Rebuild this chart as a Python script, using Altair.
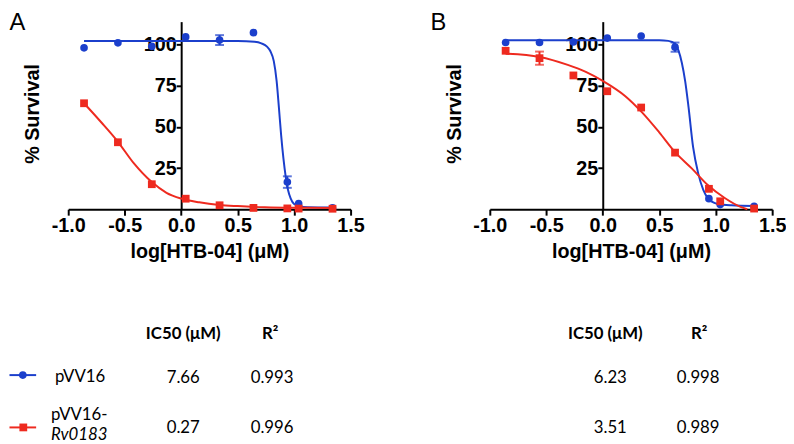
import altair as alt
import pandas as pd

# ---------------- data ----------------
log_conc = [-0.86, -0.56, -0.26, 0.04, 0.34, 0.64, 0.94, 1.04, 1.34]

a_blue_y = [98.1, 101.1, 99.0, 104.7, 102.8, 107.3, 16.5, 3.4, 0.8]
a_blue_err = [0, 0, 0, 0, 3.0, 0, 3.5, 0, 0]
a_red_y = [64.4, 40.7, 15.2, 6.4, 2.4, 0.8, 0.5, 0.4, 0.3]
a_red_err = [0, 0, 0, 0, 0, 0, 0, 0, 0]

b_blue_y = [101.3, 101.3, 101.6, 104.0, 105.3, 98.5, 6.4, 2.8, 1.8]
b_blue_err = [0, 0, 0, 0, 0, 2.8, 0, 0, 0]
b_red_y = [96.3, 91.8, 81.3, 71.7, 61.8, 34.4, 12.4, 4.8, 0.4]
b_red_err = [0, 4.0, 0, 0, 0, 0, 0, 0, 0]

# fitted curves
a_blue_fit_x = [-0.86, 0.50, 0.65, 0.71, 0.76, 0.79, 0.82, 0.845, 0.865, 0.885, 0.905, 0.925, 0.945, 0.97, 1.00, 1.05, 1.12, 1.34]
a_blue_fit_y = [102.3, 102.3, 101.8, 100.8, 98.8, 96.0, 90.0, 78.0, 62.0, 45.0, 31.0, 20.0, 12.0, 6.5, 3.2, 1.8, 1.2, 1.0]
a_red_fit_x = [-0.86, -0.71, -0.56, -0.42, -0.26, -0.13, 0.0, 0.16, 0.34, 0.50, 0.74, 1.00, 1.34]
a_red_fit_y = [64.4, 53.0, 41.0, 28.0, 16.5, 10.0, 6.5, 4.2, 2.6, 1.9, 1.2, 0.9, 0.8]

b_blue_fit_x = [-0.86, 0.50, 0.58, 0.64, 0.67, 0.70, 0.73, 0.76, 0.80, 0.845, 0.89, 0.93, 0.97, 1.02, 1.14, 1.34]
b_blue_fit_y = [102.7, 102.7, 102.3, 100.5, 96.5, 89.0, 77.7, 61.7, 37.7, 21.8, 11.8, 6.8, 4.5, 3.2, 2.4, 2.0]
b_red_fit_x = [-0.86, -0.56, -0.31, -0.15, 0.0, 0.20, 0.35, 0.50, 0.64, 0.79, 0.93, 1.08, 1.22, 1.28]
b_red_fit_y = [94.5, 92.5, 87.7, 83.5, 78.0, 68.7, 58.7, 46.7, 34.7, 24.7, 14.7, 6.8, 1.4, 0.0]

series_names = ["pVV16", "pVV16-", "Rv0183"]
a_ic50 = ["7.66", "0.27"]
a_r2 = ["0.993", "0.996"]
b_ic50 = ["6.23", "3.51"]
b_r2 = ["0.998", "0.989"]
x_ticks = [-1.0, -0.5, 0.0, 0.5, 1.0, 1.5]
y_ticks = [25, 50, 75, 100]

# ---------------- styling ----------------
BLUE = "#1b3fcc"
RED = "#ee2a1f"
AX_FONT = "Liberation Sans"
TB_FONT = "Lato"
W, H = 286, 190
Y_OFF = -W * 1.0 / 2.5  # y axis sits at x = 0

x_scale = alt.Scale(domain=[-1, 1.5], nice=False, zero=False)
y_scale = alt.Scale(domain=[0, 114], nice=False, zero=False)

x_axis = alt.Axis(
    values=x_ticks, labelExpr="replace(format(datum.value, '.1f'), '\u2212', '-')",
    title="log[HTB-04] (\u03bcM)", grid=False,
    labelFont=AX_FONT, labelFontSize=20, labelFontWeight="bold", labelColor="black",
    labelPadding=1, labelFlush=False, labelOverlap=False,
    titleFont=AX_FONT, titleFontSize=20, titleFontWeight="bold", titleColor="black", titlePadding=6,
    domainColor="black", domainWidth=2, tickColor="black", tickWidth=2, tickSize=6,
)
y_axis = alt.Axis(
    values=y_ticks, title="% Survival", grid=False, offset=Y_OFF,
    labelFont=AX_FONT, labelFontSize=20, labelFontWeight="bold", labelColor="black", labelPadding=0,
    titleFont=AX_FONT, titleFontSize=20, titleFontWeight="bold", titleColor="black",
    titleX=-150, titleY=93, titleAngle=270, titleAlign="center", titleBaseline="middle",
    domainColor="black", domainWidth=2, tickColor="black", tickWidth=2, tickSize=5,
)

dummy = pd.DataFrame({"d": [0]})


def label(txt, x, y, size=17, weight="normal", align="center", style="normal",
          font=TB_FONT, baseline="middle"):
    return alt.Chart(dummy).mark_text(
        text=txt, fontSize=size, fontWeight=weight, align=align, baseline=baseline,
        font=font, fontStyle=style, color="black"
    ).encode(x=alt.value(x), y=alt.value(y))


def series_layers(ys, errs, fx, fy, color, shape):
    pts = pd.DataFrame({"x": log_conc, "y": ys, "err": errs})
    pts["lo"] = pts["y"] - pts["err"]
    pts["hi"] = pts["y"] + pts["err"]
    fit = pd.DataFrame({"x": fx, "y": fy})
    X = alt.X("x:Q", scale=x_scale, axis=x_axis)
    Y = alt.Y("y:Q", scale=y_scale, axis=y_axis)
    line = alt.Chart(fit).mark_line(interpolate="monotone", strokeWidth=2, color=color).encode(x=X, y=Y)
    eb = alt.Chart(pts).transform_filter("datum.err > 0")
    bar = eb.mark_rule(strokeWidth=2, color=color).encode(
        x=alt.X("x:Q", scale=x_scale), y=alt.Y("lo:Q", scale=y_scale), y2="hi:Q")
    cap_lo = eb.mark_tick(orient="horizontal", size=9, thickness=2, color=color).encode(
        x=alt.X("x:Q", scale=x_scale), y=alt.Y("lo:Q", scale=y_scale))
    cap_hi = eb.mark_tick(orient="horizontal", size=9, thickness=2, color=color).encode(
        x=alt.X("x:Q", scale=x_scale), y=alt.Y("hi:Q", scale=y_scale))
    if shape == "circle":
        pm = alt.Chart(pts).mark_point(shape="circle", filled=True, size=60, opacity=1, color=color)
    else:
        pm = alt.Chart(pts).mark_point(shape="square", filled=True, size=62, opacity=1, color=color)
    p = pm.encode(x=alt.X("x:Q", scale=x_scale), y=alt.Y("y:Q", scale=y_scale))
    return [line, bar, cap_lo, cap_hi, p]


def panel(letter, letter_x, blue_y, blue_err, red_y, red_err,
          bfx, bfy, rfx, rfy, ic50, r2, cx, rx, vx, legend):
    layers = []
    layers += series_layers(blue_y, blue_err, bfx, bfy, BLUE, "circle")
    layers += series_layers(red_y, red_err, rfx, rfy, RED, "square")
    layers.append(label(letter, letter_x, -11, size=24, align="left", baseline="top", font=AX_FONT))
    # table
    layers.append(label("IC50 (\u03bcM)", cx, 316, weight="bold"))
    layers.append(label("R\u00b2", rx, 316, weight="bold"))
    layers.append(label(ic50[0], vx[0], 361))
    layers.append(label(r2[0], vx[1], 361))
    layers.append(label(ic50[1], vx[0], 412))
    layers.append(label(r2[1], vx[1], 412))
    if legend:
        layers.append(label(series_names[0], -13.5, 360, align="left"))
        layers.append(label(series_names[1], -17.5, 398, align="left"))
        layers.append(label(series_names[2], -17.5, 419, align="left", style="italic"))
        layers.append(alt.Chart(dummy).mark_rule(color=BLUE, strokeWidth=2).encode(
            x=alt.value(-59.5), x2=alt.value(-32.5), y=alt.value(358)))
        layers.append(alt.Chart(dummy).mark_point(shape="circle", filled=True, size=60, opacity=1,
                                                   color=BLUE).encode(x=alt.value(-46), y=alt.value(358)))
        layers.append(alt.Chart(dummy).mark_rule(color=RED, strokeWidth=2).encode(
            x=alt.value(-59.5), x2=alt.value(-32.5), y=alt.value(411)))
        layers.append(alt.Chart(dummy).mark_point(shape="square", filled=True, size=62, opacity=1,
                                                   color=RED).encode(x=alt.value(-45.5), y=alt.value(411)))
    return alt.layer(*layers).properties(width=W, height=H)


pA = panel("A", -59.5, a_blue_y, a_blue_err, a_red_y, a_red_err,
           a_blue_fit_x, a_blue_fit_y, a_red_fit_x, a_red_fit_y,
           a_ic50, a_r2, 116.5, 204.5, [116.5, 206.5], True)
pB = panel("B", -60, b_blue_y, b_blue_err, b_red_y, b_red_err,
           b_blue_fit_x, b_blue_fit_y, b_red_fit_x, b_red_fit_y,
           b_ic50, b_r2, 117, 212, [122, 211], False)

chart = alt.hconcat(pA, pB, spacing=141, bounds="flush").properties(
    padding=0, background="white"
).configure_view(stroke=None)

chart.save("out.html", embed_options={"renderer": "svg", "actions": False})
